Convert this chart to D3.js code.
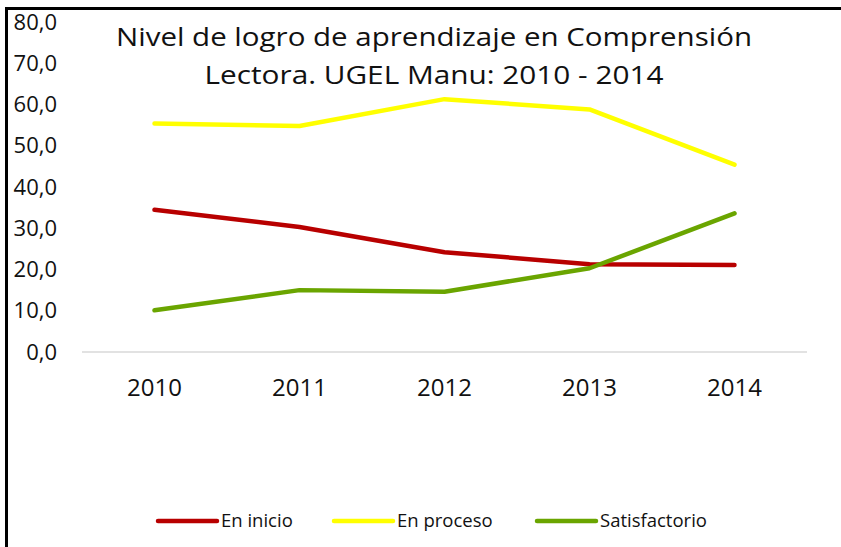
<!DOCTYPE html>
<html>
<head>
<meta charset="utf-8">
<script src="https://cdn.jsdelivr.net/npm/d3@7"></script>
<style>
  body { margin: 0; background: #fff; }
  svg { display: block; }
</style>
</head>
<body>
<div id="main"></div>
<script>
var years = ["2010", "2011", "2012", "2013", "2014"];
var enInicio = [34.5, 30.3, 24.2, 21.3, 21.1];
var enProceso = [55.4, 54.8, 61.3, 58.8, 45.4];
var satisfactorio = [10.1, 15.0, 14.6, 20.3, 33.6];
var seriesNames = ["En inicio", "En proceso", "Satisfactorio"];
var seriesColors = ["#b80000", "#ffff00", "#6aa500"];
var yTicks = [0, 10, 20, 30, 40, 50, 60, 70, 80];
var titleLines = ["Nivel de logro de aprendizaje en Comprensión", "Lectora. UGEL Manu: 2010 - 2014"];

var ctx = {
    w: 841,
    h: 547,
    left: 82,
    right: 807,
    top: 22,
    bottom: 352
};

var svg = d3.select("#main").append("svg")
    .attr("width", ctx.w)
    .attr("height", ctx.h);

svg.append("rect").attr("width", ctx.w).attr("height", ctx.h).attr("fill", "#fff");

// frame of the cropped picture (left and top only)
svg.append("path")
    .attr("d", "M6.5,547V8.5H841")
    .attr("fill", "none")
    .attr("stroke", "#000")
    .attr("stroke-width", 3);

var x = d3.scaleBand().domain(years).range([ctx.left, ctx.right]);
var y = d3.scaleLinear().domain([0, 80]).range([ctx.bottom, ctx.top]);

var fmt = function (v) { return d3.format(".1f")(v).replace(".", ","); };

// y labels
svg.append("g")
    .selectAll("text")
    .data(yTicks)
    .enter()
    .append("text")
    .attr("x", 57)
    .attr("y", function (d) { return y(d); })
    .attr("dy", "0.35em")
    .attr("text-anchor", "end")
    .style("font-family", "Open Sans")
    .style("font-size", "22px")
    .style("fill", "#111")
    .text(fmt);

// baseline
svg.append("line")
    .attr("x1", ctx.left)
    .attr("x2", ctx.right)
    .attr("y1", y(0))
    .attr("y2", y(0))
    .attr("stroke", "#d9d9d9")
    .attr("stroke-width", 1.5);

// x labels
svg.append("g")
    .selectAll("text")
    .data(years)
    .enter()
    .append("text")
    .attr("x", function (d) { return x(d) + x.bandwidth() / 2; })
    .attr("y", 388)
    .attr("dy", "0.35em")
    .attr("text-anchor", "middle")
    .style("font-family", "Open Sans")
    .style("font-size", "24px")
    .style("fill", "#111")
    .text(function (d) { return d; });

var series = [enInicio, enProceso, satisfactorio];
var line = d3.line()
    .x(function (d, i) { return x(years[i]) + x.bandwidth() / 2; })
    .y(function (d) { return y(d); });

svg.append("g")
    .selectAll("path")
    .data(series)
    .enter()
    .append("path")
    .attr("d", line)
    .attr("fill", "none")
    .attr("stroke", function (d, i) { return seriesColors[i]; })
    .attr("stroke-width", 4.5)
    .attr("stroke-linecap", "round")
    .attr("stroke-linejoin", "round");

// title
var titleWidths = [636, 459];
svg.append("g")
    .selectAll("text")
    .data(titleLines)
    .enter()
    .append("text")
    .attr("x", 434)
    .attr("y", function (d, i) { return 46 + i * 38; })
    .attr("text-anchor", "middle")
    .attr("textLength", function (d, i) { return titleWidths[i]; })
    .attr("lengthAdjust", "spacingAndGlyphs")
    .style("font-family", "Open Sans")
    .style("font-size", "25px")
    .style("fill", "#111")
    .text(function (d) { return d; });

// legend
var legendX = [158, 334, 537];
var legend = svg.append("g")
    .selectAll("g")
    .data(seriesNames)
    .enter()
    .append("g")
    .attr("transform", function (d, i) { return "translate(" + legendX[i] + ",521)"; });
legend.append("line")
    .attr("x1", 0)
    .attr("x2", 59)
    .attr("stroke", function (d, i) { return seriesColors[i]; })
    .attr("stroke-width", 4.5)
    .attr("stroke-linecap", "round");
legend.append("text")
    .attr("x", 63)
    .attr("dy", "0.35em")
    .style("font-family", "Open Sans")
    .style("font-size", "18.5px")
    .style("fill", "#111")
    .text(function (d) { return d; });
</script>
</body>
</html>
